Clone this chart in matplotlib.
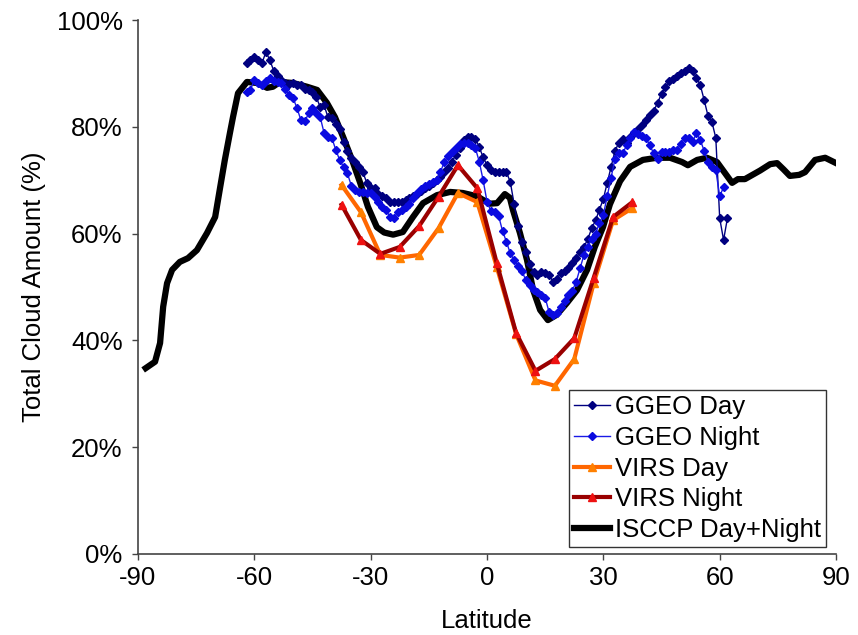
import matplotlib
matplotlib.use("Agg")
import matplotlib.pyplot as plt
import numpy as np
from matplotlib.ticker import FuncFormatter

plt.rcParams['font.family'] = ['Liberation Sans', 'DejaVu Sans']
plt.rcParams['axes.unicode_minus'] = False

# ISCCP zonal mean (latitude, %)
isccp_lat = [-88.0, -85.6, -84.3, -83.5, -82.5, -81.2, -79.2, -77.1, -74.8, -72.2,
             -70.1, -68.8, -67.6, -66.3, -65.5, -64.2, -61.9, -59.3, -56.7, -55.2,
             -53.4, -50.0, -46.4, -43.8, -41.3, -39.2, -37.1, -34.8, -32.7, -30.7,
             -28.4, -26.5, -24.2, -21.7, -19.1, -16.5, -12.9, -9.5, -6.2, -2.6,
             -1.0, 0.8, 2.6, 4.6, 5.9, 6.7, 8.5, 10.3, 11.9, 13.7,
             15.7, 18.0, 20.6, 23.2, 25.8, 27.8, 29.9, 31.7, 34.3, 36.9,
             40.2, 43.8, 47.2, 50.3, 51.8, 54.2, 56.7, 59.3, 61.4, 63.2,
             64.7, 66.5, 70.4, 73.0, 74.8, 76.5, 78.1, 80.5, 82.0, 84.6,
             87.2, 90.0]
isccp_val = [34.8, 36.0, 39.5, 46.3, 50.7, 53.2, 54.7, 55.4, 56.9, 60.1,
             63.1, 68.7, 73.8, 78.8, 81.8, 86.3, 88.4, 88.2, 87.3, 87.5,
             88.4, 88.2, 87.5, 86.9, 84.5, 81.8, 78.1, 73.8, 69.5, 65.0,
             61.2, 60.2, 59.8, 60.3, 63.1, 65.7, 67.2, 67.8, 67.6, 67.0,
             66.3, 65.6, 65.7, 67.4, 66.7, 64.4, 60.1, 55.1, 49.4, 45.7,
             43.8, 44.8, 47.0, 49.4, 53.2, 57.5, 61.2, 65.5, 69.8, 72.5,
             73.8, 74.2, 74.2, 73.4, 72.8, 73.8, 74.2, 73.4, 71.3, 69.5,
             70.2, 70.2, 71.8, 73.0, 73.2, 72.0, 70.8, 71.0, 71.5, 73.8,
             74.2, 73.2]

# VIRS, 5 degree bins
virs_lat = [-37.5, -32.5, -27.5, -22.5, -17.5, -12.5, -7.5, -2.5,
            2.5, 7.5, 12.5, 17.5, 22.5, 27.5, 32.5, 37.5]
virs_day = [69.1, 64.0, 56.0, 55.5, 56.0, 61.0, 67.6, 65.9,
            53.8, 41.2, 32.5, 31.5, 36.5, 50.7, 62.5, 64.8]
virs_night = [65.4, 58.8, 56.2, 57.5, 61.4, 66.9, 72.8, 68.5,
              54.5, 41.4, 34.3, 36.5, 40.4, 51.7, 63.1, 65.9]

# GGEO, 1 degree bins
ggeo_day_lat = list(range(-62, 63))
ggeo_day = [91.9, 92.5, 93.0, 92.5, 92.0, 94.0, 92.5, 90.5, 89.5, 88.8,
            88.2, 88.0, 88.2, 87.8, 87.8, 87.0, 86.9, 86.5, 85.5, 83.7,
            84.0, 81.8, 81.6, 80.5, 79.5, 77.2, 75.5, 74.2, 73.5, 72.5,
            71.5, 69.5, 68.6, 68.5, 67.5, 67.0, 66.7, 65.9, 65.9, 65.9,
            65.9, 66.3, 66.7, 67.0, 67.5, 67.9, 68.5, 69.0, 69.5, 70.0,
            70.6, 71.5, 72.3, 73.5, 74.8, 76.0, 77.5, 78.0, 78.1, 77.8,
            76.2, 74.3, 72.8, 72.0, 71.6, 71.5, 71.5, 71.5, 69.7, 65.5,
            61.5, 58.5, 56.5, 54.3, 52.8, 52.2, 52.8, 52.7, 52.3, 51.0,
            51.5, 52.6, 53.0, 53.5, 54.5, 55.5, 56.5, 57.5, 59.0, 61.0,
            62.5, 64.5, 66.5, 69.5, 72.5, 75.5, 77.0, 77.8, 77.0, 78.0,
            78.8, 79.6, 80.4, 81.3, 82.2, 83.0, 84.5, 86.2, 87.5, 88.5,
            89.0, 89.6, 90.0, 90.5, 91.0, 90.5, 89.2, 87.8, 85.0, 82.0,
            80.9, 77.9, 62.9, 58.8, 62.9]

ggeo_night_lat = list(range(-62, 62))
ggeo_night = [86.5, 86.9, 88.8, 88.2, 87.8, 88.5, 89.1, 88.6, 88.3, 88.2,
              87.0, 86.0, 85.4, 83.5, 81.3, 81.0, 82.5, 83.5, 82.5, 81.8,
              78.8, 78.0, 77.9, 75.7, 73.8, 72.5, 71.3, 69.0, 68.2, 67.8,
              67.7, 67.6, 67.6, 66.8, 66.0, 65.0, 64.4, 63.1, 62.9, 64.0,
              64.4, 65.0, 65.6, 66.7, 67.6, 68.3, 69.0, 69.3, 69.6, 70.0,
              71.5, 73.5, 74.5, 75.3, 76.0, 76.8, 77.0, 77.0, 76.6, 76.0,
              73.5, 70.0, 66.0, 64.2, 64.0, 63.3, 60.5, 58.5, 56.3, 55.0,
              54.0, 53.0, 51.3, 50.3, 49.5, 49.0, 48.5, 48.0, 45.3, 44.8,
              45.2, 46.2, 47.3, 48.5, 49.3, 51.0, 53.5, 56.0, 57.5, 59.0,
              60.0, 62.0, 63.5, 67.0, 70.5, 74.0, 75.1, 75.1, 76.5, 77.9,
              79.0, 78.6, 78.3, 77.9, 76.5, 75.0, 73.9, 75.2, 75.3, 75.3,
              75.7, 75.7, 76.8, 77.9, 77.9, 77.2, 78.8, 77.5, 75.5, 73.5,
              72.5, 71.9, 67.0, 68.7]

fig = plt.figure(figsize=(8.58, 6.35), dpi=100)
ax = fig.add_axes([0.1608, 0.1276, 0.8136, 0.8409])

ax.plot(ggeo_day_lat, ggeo_day, color='#000080', lw=1.0, marker='D',
        markersize=4.5, markerfacecolor='#000080', markeredgecolor='#000080',
        label='GGEO Day', zorder=3)
ax.plot(ggeo_night_lat, ggeo_night, color='#1a1aE6', lw=1.0, marker='D',
        markersize=4.5, markerfacecolor='#0a0ae0', markeredgecolor='#0a0ae0',
        label='GGEO Night', zorder=3)
ax.plot(virs_lat, virs_day, color='#FF6600', lw=3.0, marker='^',
        markersize=6, markerfacecolor='#FF8000', markeredgecolor='#FF8000',
        label='VIRS Day', zorder=4)
ax.plot(virs_lat, virs_night, color='#990000', lw=3.0, marker='^',
        markersize=6, markerfacecolor='#EE1111', markeredgecolor='#EE1111',
        label='VIRS Night', zorder=4)
ax.plot(isccp_lat, isccp_val, color='black', lw=4.5,
        label='ISCCP Day+Night', zorder=2)

ax.set_xlim(-90, 90)
ax.set_ylim(0, 100)
ax.set_xticks([-90, -60, -30, 0, 30, 60, 90])
ax.set_yticks([0, 20, 40, 60, 80, 100])
ax.yaxis.set_major_formatter(FuncFormatter(lambda v, p: '%d%%' % v))

for s in ['top', 'right']:
    ax.spines[s].set_visible(False)
for s in ['left', 'bottom']:
    ax.spines[s].set_color('#444444')
    ax.spines[s].set_linewidth(1.2)
ax.tick_params(direction='out', length=4, width=1, colors='#444444',
               labelcolor='black', labelsize=18.5)
ax.tick_params(axis='x', pad=5)
ax.tick_params(axis='y', pad=7)

ax.set_xlabel('Latitude', fontsize=18.5, labelpad=13)
ax.set_ylabel('Total Cloud Amount (%)', fontsize=18.5, labelpad=8)

leg = ax.legend(loc='lower right', bbox_to_anchor=(0.986, 0.013),
                borderaxespad=0, fontsize=18.5, frameon=True, fancybox=False,
                handlelength=1.4, handletextpad=0.2, labelspacing=0.26,
                borderpad=0.2, markerscale=0.9)
leg.get_frame().set_edgecolor('black')
leg.get_frame().set_linewidth(1.0)

fig.savefig('out.png', dpi=100)
